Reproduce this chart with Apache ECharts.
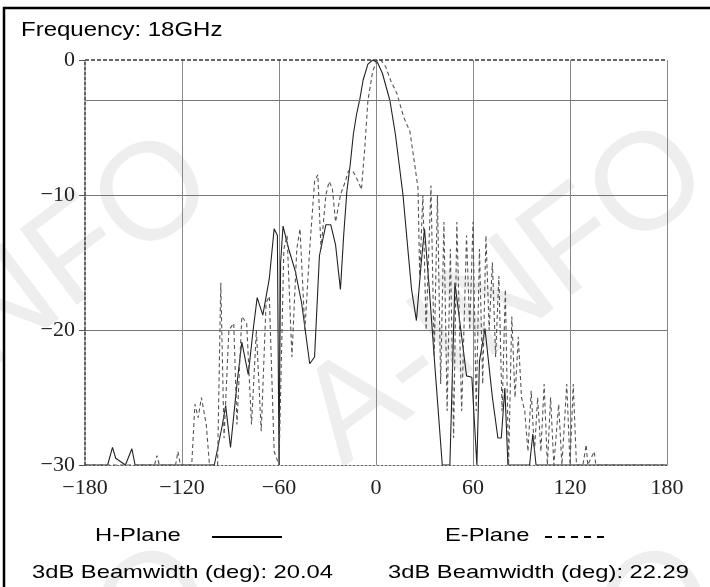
<!DOCTYPE html>
<html>
<head>
<meta charset="utf-8">
<script src="https://cdn.jsdelivr.net/npm/echarts@6/dist/echarts.min.js"></script>
<style>
html,body{margin:0;padding:0;background:#fff;}
#chart{width:710px;height:587px;}
</style>
</head>
<body>
<div id="chart"></div>
<script>
// ---- data ----
const title = 'Frequency: 18GHz';
const xTicks = [-180, -120, -60, 0, 60, 120, 180];
const yTicks = [0, -10, -20, -30];
const hLabel = 'H-Plane';
const eLabel = 'E-Plane';
const hBeam = '3dB Beamwidth (deg): 20.04';
const eBeam = '3dB Beamwidth (deg): 22.29';
const watermark = 'A-INFO';

// H-Plane (solid)
const hDeg = [-180,-166,-163,-161,-155,-151,-149,-140,-100,-95,-93,-90,-86,-83,-79,-76,-73.5,-70,-66,-63,-61,-60,-59,-57.5,-54,-50,-46,-41,-38,-35,-31,-28,-25,-22,-20,-18,-16,-14,-12,-10,-8,-5,-2,1,4,8.6,12,16.7,19.7,22,25,28,30,33,36,41,45.7,48.8,53,56,59.3,62.4,64,67.4,72,75.4,77.5,79.7,81.6,95,97,99,180];
const hDb  = [-30,-30,-28.7,-29.5,-30,-28.8,-30,-30,-30,-27,-25.6,-28.7,-24,-20.9,-23.3,-20,-17.6,-18.9,-16.2,-12.5,-13,-30,-15,-12.3,-14,-15.6,-18,-22.5,-22,-14.5,-12.2,-12.2,-13.7,-17,-13,-9.7,-7.8,-5.5,-4,-2.9,-1.5,-0.3,0,-0.2,-1,-3,-5.5,-10,-14,-17,-19.3,-15,-12.5,-17,-22,-30,-30,-16.5,-20.5,-23.4,-23.5,-30,-22.3,-19.9,-25,-28,-28,-24.3,-30,-30,-27.7,-30,-30];

// E-Plane (dashed)
const eDeg = [-180,-137,-135.5,-134,-124,-122.5,-121,-114,-112,-110,-108,-105,-103,-98,-96,-94,-91,-88,-86,-83,-80,-77,-74,-71,-68,-66,-63,-60,-57,-55,-52,-49,-47,-44,-41,-38,-36,-34,-31,-29,-27,-25,-22,-19,-17,-14,-11,-9,-7,-5,-2,1,3,6,9,13,17,21,24,26,27,29,31,34,36,38,40,42,44,46,48,50,53,56,58,60,62,64,66,68,70,72,74,76,78,80,82,84,86,88,90,92,94,96,98,100,102,104,106,108,110,113,115,118,120,122,124,128,130,131,135,136,180];
const eDb  = [-30,-30,-29.3,-30,-30,-29,-30,-30,-25.5,-26.5,-25,-27,-30,-30,-16.5,-28,-20,-19.5,-27,-19,-19.5,-27,-20,-27.5,-18,-17.5,-29,-30,-14,-13,-22,-14,-12.5,-20,-14,-9,-8.5,-14,-10,-9,-9.5,-12,-10,-9,-8.2,-8.3,-9,-9.6,-6.6,-3,-0.8,0,0,-0.5,-1.5,-2.5,-4.2,-5.3,-7.8,-9.5,-16,-10,-20,-9.3,-22,-10,-24,-12,-26,-14,-28,-12,-26,-13,-20,-12,-26,-14,-24,-13,-20,-15,-22,-16,-26,-17,-30,-19,-25,-20.5,-25,-26,-29,-24.5,-29,-25,-29,-24,-30,-25,-30,-25.5,-30,-24,-30,-24,-30,-30,-28.5,-30,-29,-30,-30];

function pairs(xs, ys){ return xs.map((x,i)=>[x, ys[i]]); }
const minus = v => String(v).replace('-', '\u2212');

const chart = echarts.init(document.getElementById('chart'), null, {renderer:'canvas'});
const labelFont = '"Liberation Serif", "Times New Roman", serif';
const sansFont = '"Liberation Sans", Arial, sans-serif';
const wmRot = 37 * Math.PI / 180;
function wm(x, y){
  return {type: 'text', x: x, y: y, rotation: wmRot, z: -10, silent: true,
    style: {text: watermark, font: '138px ' + sansFont, fill: '#eeeeee', align: 'right', verticalAlign: 'middle'}};
}

chart.setOption({
  animation: false,
  backgroundColor: '#fff',
  grid: {left: 85, right: 43, top: 60, bottom: 122, containLabel: false},
  xAxis: {
    type: 'value', min: -180, max: 180, interval: 60,
    axisLine: {show: true, onZero: false, lineStyle: {color: '#666', width: 1, type: [2,2]}},
    axisTick: {show: false},
    axisLabel: {formatter: minus, fontFamily: labelFont, fontSize: 22, color: '#222', margin: 12},
    splitLine: {show: true, showMinLine: false, showMaxLine: true, lineStyle: {color: '#888', width: 1}}
  },
  yAxis: {
    type: 'value', min: -30, max: 0, interval: 10,
    axisLine: {show: true, onZero: false, lineStyle: {color: '#333', width: 1.5, type: [3,2]}},
    axisTick: {show: true, length: 6, lineStyle: {color: '#555'}},
    axisLabel: {formatter: minus, fontFamily: labelFont, fontSize: 22, color: '#222', margin: 10},
    splitLine: {show: true, showMinLine: false, showMaxLine: false, lineStyle: {color: '#777', width: 1}}
  },
  series: [
    {
      name: hLabel, type: 'line', data: pairs(hDeg, hDb), showSymbol: false, smooth: false,
      lineStyle: {color: '#222', width: 1.1},
      markLine: {
        silent: true, symbol: 'none', label: {show: false},
        data: [
          {yAxis: -3, lineStyle: {color: '#777', width: 1, type: 'solid'}},
          {yAxis: 0, lineStyle: {color: '#333', width: 1.5, type: [4,2]}}
        ]
      }
    },
    {
      name: eLabel, type: 'line', data: pairs(eDeg, eDb), showSymbol: false, smooth: false,
      lineStyle: {color: '#555', width: 1.1, type: [4,3]}
    }
  ],
  graphic: [
    wm(693, 156), wm(198, 166), wm(200, 576), wm(703, 576),
    {type: 'rect', shape: {x: 4, y: 8, width: 740, height: 620}, style: {fill: 'none', stroke: '#000', lineWidth: 2.5}, silent: true},
    {type: 'text', x: 21, y: 30, scaleX: 1.2, style: {text: title, font: '20px ' + sansFont, fill: '#000', verticalAlign: 'middle'}},
    {type: 'text', x: 95, y: 536, scaleX: 1.25, style: {text: hLabel, font: '19px ' + sansFont, fill: '#000', verticalAlign: 'middle'}},
    {type: 'line', shape: {x1: 212, y1: 537, x2: 282, y2: 537}, style: {stroke: '#000', lineWidth: 2}},
    {type: 'text', x: 445, y: 536, scaleX: 1.25, style: {text: eLabel, font: '19px ' + sansFont, fill: '#000', verticalAlign: 'middle'}},
    {type: 'line', shape: {x1: 545, y1: 537, x2: 607, y2: 537}, style: {stroke: '#000', lineWidth: 2, lineDash: [7,6]}},
    {type: 'text', x: 32, y: 573, scaleX: 1.25, style: {text: hBeam, font: '19px ' + sansFont, fill: '#000', verticalAlign: 'middle'}},
    {type: 'text', x: 388, y: 573, scaleX: 1.25, style: {text: eBeam, font: '19px ' + sansFont, fill: '#000', verticalAlign: 'middle'}}
  ]
});
</script>
</body>
</html>
